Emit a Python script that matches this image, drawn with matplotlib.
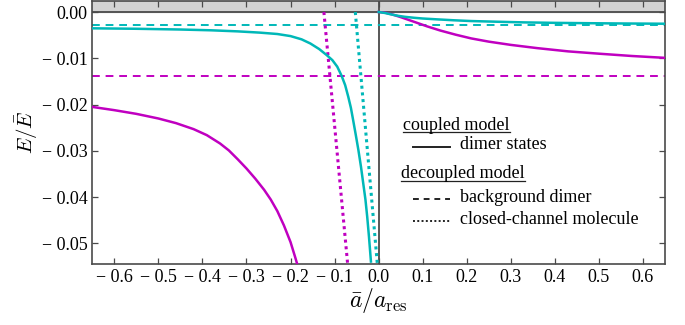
import matplotlib
matplotlib.use("Agg")
import matplotlib.pyplot as plt
from matplotlib.lines import Line2D

plt.rcParams["font.family"] = ["Liberation Serif", "DejaVu Serif"]
plt.rcParams["mathtext.fontset"] = "cm"

MAG = "#c000c0"
CYA = "#00b8b8"
AXC = "#4a4a4a"

# coupled model: dimer-state energies, left branch
x_mag_left = [-0.65, -0.60, -0.55, -0.50, -0.46, -0.42, -0.39, -0.36, -0.34, -0.32,
              -0.30, -0.28, -0.26, -0.245, -0.23, -0.215, -0.20, -0.19, -0.185]
E_mag_left = [-0.0205, -0.0212, -0.0220, -0.0230, -0.0240, -0.0253, -0.0266, -0.0284,
              -0.0299, -0.0318, -0.0338, -0.0360, -0.0384, -0.0405, -0.0430, -0.0461,
              -0.0497, -0.0528, -0.0544]

x_cya_left = [-0.65, -0.55, -0.45, -0.38, -0.32, -0.27, -0.23, -0.20, -0.175, -0.155,
              -0.135, -0.118, -0.105, -0.094, -0.084, -0.076, -0.069, -0.063, -0.058,
              -0.052, -0.046, -0.040, -0.035, -0.030, -0.026, -0.022, -0.0175]
E_cya_left = [-0.00352, -0.00362, -0.00378, -0.00395, -0.00418, -0.00445, -0.00475,
              -0.0052, -0.0059, -0.0068, -0.0080, -0.0093, -0.0104, -0.0118, -0.0138,
              -0.0158, -0.0183, -0.0207, -0.0233, -0.0265, -0.0298, -0.0335, -0.0370,
              -0.0405, -0.0442, -0.0485, -0.0539]

# coupled model: right branch
x_mag_right = [0.0, 0.015, 0.03, 0.05, 0.08, 0.11, 0.14, 0.175, 0.21, 0.25, 0.30,
               0.36, 0.43, 0.50, 0.575, 0.65]
E_mag_right = [0.0, -0.00015, -0.0005, -0.0011, -0.0021, -0.0031, -0.0040, -0.0049,
               -0.0057, -0.0064, -0.0071, -0.0078, -0.0085, -0.0090, -0.0095, -0.0099]

x_cya_right = [0.0, 0.015, 0.03, 0.045, 0.06, 0.08, 0.10, 0.13, 0.17, 0.21, 0.27,
               0.33, 0.40, 0.48, 0.56, 0.65]
E_cya_right = [0.0, -0.00022, -0.00055, -0.00083, -0.00104, -0.00124, -0.0014,
               -0.00157, -0.00178, -0.00195, -0.0021, -0.00224, -0.00234, -0.00242,
               -0.00248, -0.00253]

# decoupled model: background dimers (constant) and closed-channel molecules
E_bg_cya = -0.0029
E_bg_mag = -0.0138
x_cc_mag = [-0.1243, -0.0704]
E_cc_mag = [0.0, -0.0544]
x_cc_cya = [-0.053, -0.003]
E_cc_cya = [0.0, -0.0544]

x_ticks = [-0.6, -0.5, -0.4, -0.3, -0.2, -0.1, 0.0, 0.1, 0.2, 0.3, 0.4, 0.5, 0.6]
x_ticklabels = ["\u2212 0.6", "\u2212 0.5", "\u2212 0.4", "\u2212 0.3", "\u2212 0.2",
                "\u2212 0.1", "0.0", "0.1", "0.2", "0.3", "0.4", "0.5", "0.6"]
y_ticks = [0.0, -0.01, -0.02, -0.03, -0.04, -0.05]
y_ticklabels = ["0.00", "\u2212 0.01", "\u2212 0.02", "\u2212 0.03", "\u2212 0.04", "\u2212 0.05"]

fig = plt.figure(figsize=(6.85, 3.25), dpi=100)
W, H = 685, 325
x0, x1, y0, y1 = 92.3, 665.0, 264.0, 1.0
ax = fig.add_axes([x0 / W, 1 - y0 / H, (x1 - x0) / W, (y0 - y1) / H])
ax.set_xlim(-0.65, 0.65)
ax.set_ylim(-0.05443, 0.00238)

# continuum above threshold
ax.axhspan(0, 0.01, color="#d3d3d3", zorder=0)
ax.axhline(0, color=AXC, lw=1.3, zorder=1)
ax.axvline(0, color=AXC, lw=1.3, zorder=1)

lw = 1.8
ax.axhline(E_bg_cya, color=CYA, lw=1.4, ls=(0, (4, 3)), zorder=2)
ax.axhline(E_bg_mag, color=MAG, lw=1.4, ls=(0, (4, 3)), zorder=2)
ax.plot(x_cc_mag, E_cc_mag, color=MAG, lw=2.2, ls=(0, (1, 1.2)), zorder=2)
ax.plot(x_cc_cya, E_cc_cya, color=CYA, lw=2.2, ls=(0, (1, 1.2)), zorder=2)
ax.plot(x_mag_left, E_mag_left, color=MAG, lw=lw, zorder=3)
ax.plot(x_cya_left, E_cya_left, color=CYA, lw=lw, zorder=3)
ax.plot(x_mag_right, E_mag_right, color=MAG, lw=lw, zorder=3)
ax.plot(x_cya_right, E_cya_right, color=CYA, lw=lw, zorder=3)

for s in ax.spines.values():
    s.set_color(AXC)
    s.set_linewidth(1.2)
ax.set_xticks(x_ticks)
ax.set_xticklabels(x_ticklabels)
ax.set_yticks(y_ticks)
ax.set_yticklabels(y_ticklabels)
ax.tick_params(direction="in", top=True, right=True, length=4, width=0.9,
               color=AXC, labelsize=13, pad=3.5)

xl = ax.set_xlabel(r"$\bar{a}/a_{\rm res}$", fontsize=17, va="center")
yl = ax.set_ylabel(r"$E/\bar{E}$", fontsize=15, va="center")
ax.xaxis.set_label_coords(0.5, -0.137)
ax.yaxis.set_label_coords(-0.115, 0.5)


def px(xp, yp):
    return xp / W, 1 - yp / H


fs = 13
t1 = fig.text(*px(403, 125), "coupled model", fontsize=fs, va="center", ha="left")
fig.text(*px(460, 144), "dimer states", fontsize=fs, va="center", ha="left")
t2 = fig.text(*px(401, 174), "decoupled model", fontsize=fs, va="center", ha="left")
fig.text(*px(460, 197), "background dimer", fontsize=fs, va="center", ha="left")
fig.text(*px(460, 220), "closed-channel molecule", fontsize=fs, va="center", ha="left")

samples = [(147, "-"), (199, (0, (3, 2.5))), (221, (0, (1, 1.2)))]
for yp, ls in samples:
    xa, ya = px(413, yp)
    xb, _ = px(450, yp)
    fig.add_artist(Line2D([xa, xb], [ya, ya], color="#222222", lw=1.4, ls=ls,
                          transform=fig.transFigure))

fig.canvas.draw()
r = fig.canvas.get_renderer()
for t in (t1, t2):
    bb = t.get_window_extent(r)
    yline = bb.y0 + 1.5
    fig.add_artist(Line2D([bb.x0 / W, bb.x1 / W], [yline / H, yline / H],
                          color="#222222", lw=0.9, transform=fig.transFigure))

fig.savefig("out.png", dpi=100)
